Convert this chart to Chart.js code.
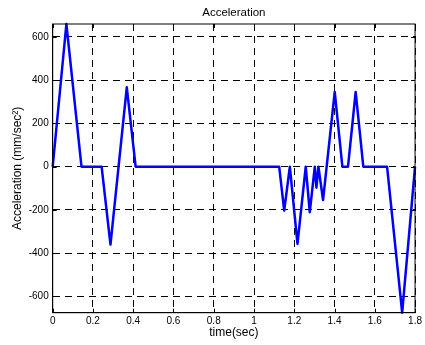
<!DOCTYPE html>
<html>
<head>
<meta charset="utf-8">
<script src="https://cdn.jsdelivr.net/npm/chart.js@4/dist/chart.umd.min.js"></script>
<style>
  html, body { margin: 0; padding: 0; background: #fff; }
  #wrap { width: 425px; height: 345px; position: relative; }
</style>
</head>
<body>
<div id="wrap"><canvas id="c" width="425" height="345"></canvas></div>
<script>
// ---- data ----
const timeSec = [0, 0.068, 0.143, 0.243, 0.287, 0.368, 0.412, 1.125, 1.15, 1.178, 1.216, 1.257, 1.277, 1.302, 1.31, 1.32, 1.343, 1.401, 1.439, 1.467, 1.505, 1.543, 1.661, 1.736, 1.8];
const accel   = [0, 660,   0,     0,     -360,  367,   0,     0,     -203, 0,     -357,  0,     -210,  0,     -97,  0,    -154,  346,   0,     0,     346,   0,     0,     -675,  0];
const xTicks = [0, 0.2, 0.4, 0.6, 0.8, 1, 1.2, 1.4, 1.6, 1.8];
const yTicks = [-600, -400, -200, 0, 200, 400, 600];
const xLimits = [0, 1.8];
const yLimits = [-675, 660];
const titleText = 'Acceleration';
const xLabel = 'time(sec)';
const yLabel = 'Acceleration (mm/sec²)';

const points = timeSec.map((t, i) => ({ x: t, y: accel[i] }));
const FONT = 'Liberation Sans, Arial, sans-serif';

const titlePlugin = {
  id: 'centerTitle',
  afterDraw(chart) {
    const { ctx, chartArea } = chart;
    ctx.save();
    ctx.font = '11.5px ' + FONT;
    ctx.fillStyle = '#000';
    ctx.textAlign = 'center';
    ctx.textBaseline = 'middle';
    ctx.fillText(titleText, (chartArea.left + chartArea.right) / 2, 13);
    ctx.restore();
  }
};

const innerTicks = {
  id: 'innerTicks',
  afterDatasetsDraw(chart) {
    const { ctx, chartArea: a, scales } = chart;
    ctx.save();
    ctx.strokeStyle = '#000';
    ctx.lineWidth = 1;
    ctx.beginPath();
    xTicks.forEach(v => {
      const px = Math.round(scales.x.getPixelForValue(v)) + 0.5;
      ctx.moveTo(px, a.bottom); ctx.lineTo(px, a.bottom - 4);
      ctx.moveTo(px, a.top); ctx.lineTo(px, a.top + 4);
    });
    yTicks.forEach(v => {
      const py = Math.round(scales.y.getPixelForValue(v)) + 0.5;
      ctx.moveTo(a.left, py); ctx.lineTo(a.left + 4, py);
      ctx.moveTo(a.right, py); ctx.lineTo(a.right - 4, py);
    });
    ctx.stroke();
    ctx.lineWidth = 1;
    ctx.strokeRect(a.left, a.top, a.right - a.left, a.bottom - a.top);
    ctx.restore();
  }
};

new Chart(document.getElementById('c'), {
  type: 'line',
  data: {
    datasets: [{
      data: points,
      borderColor: '#0000ff',
      borderWidth: 2.5,
      borderJoinStyle: 'round',
      pointRadius: 0,
      tension: 0,
      fill: false,
      clip: 2
    }]
  },
  options: {
    responsive: false,
    animation: false,
    layout: { padding: { top: 24, right: 8, left: 0, bottom: 0 } },
    plugins: { legend: { display: false }, tooltip: { enabled: false }, title: { display: false } },
    scales: {
      x: {
        type: 'linear',
        min: xLimits[0], max: xLimits[1],
        afterBuildTicks(s) { s.ticks = xTicks.map(v => ({ value: v })); },
        afterFit(s) { s.height = 32.3; },
        ticks: {
          font: { family: FONT, size: 10 }, color: '#000', padding: 3,
          maxRotation: 0, autoSkip: false,
          callback: v => String(v)
        },
        grid: { color: '#000', lineWidth: 1, drawTicks: false },
        border: { display: true, color: '#000', width: 1, dash: [7, 5] },
        title: { display: true, text: xLabel, font: { family: FONT, size: 12 }, color: '#000', padding: { top: 0, bottom: 5 } }
      },
      y: {
        type: 'linear',
        min: yLimits[0], max: yLimits[1],
        afterBuildTicks(s) { s.ticks = yTicks.map(v => ({ value: v })); },
        afterFit(s) { s.width = 52.7; },
        ticks: {
          font: { family: FONT, size: 10 }, color: '#000', padding: 4,
          autoSkip: false, callback: v => String(v)
        },
        grid: { color: '#000', lineWidth: 1, drawTicks: false },
        border: { display: true, color: '#000', width: 1, dash: [7, 5] },
        title: { display: true, text: yLabel, font: { family: FONT, size: 12 }, color: '#000', padding: { top: 10, bottom: 0 } }
      }
    }
  },
  plugins: [titlePlugin, innerTicks]
});
</script>
</body>
</html>
